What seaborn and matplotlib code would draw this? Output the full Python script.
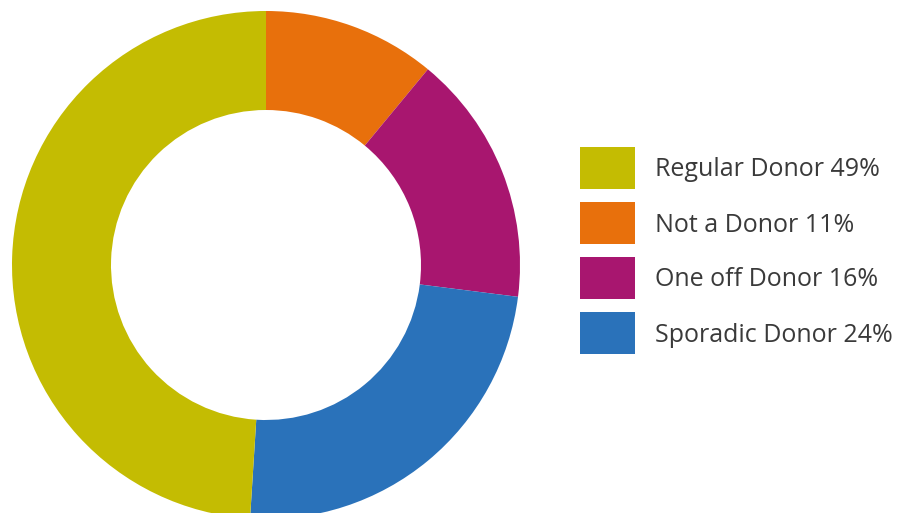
import matplotlib
matplotlib.use("Agg")
import matplotlib.pyplot as plt
from matplotlib.patches import Rectangle
import seaborn as sns

# Donor status shares (drawn clockwise from 12 o'clock)
categories = ["Not a Donor", "One off Donor", "Sporadic Donor", "Regular Donor"]
shares = [11, 16, 24, 49]
colors = ["#E8700C", "#A8166F", "#2A72BA", "#C4BC02"]

# Legend order as listed beside the ring
legend_order = ["Regular Donor", "Not a Donor", "One off Donor", "Sporadic Donor"]

sns.set_theme(style="white")
plt.rcParams["font.family"] = ["Open Sans", "DejaVu Sans"]

W, H = 907, 513
fig = plt.figure(figsize=(W / 100, H / 100), dpi=100)
fig.patch.set_facecolor("white")

# Ring centred at (266, 265) px from top-left, outer radius 254 px
cx, cy, r = 266, 265, 254
ax = fig.add_axes([(cx - r) / W, (H - cy - r) / H, 2 * r / W, 2 * r / H])
palette = sns.color_palette(colors)
ax.pie(shares, colors=palette, startangle=90, counterclock=False,
       wedgeprops=dict(width=(254 - 155) / 254, linewidth=0))
ax.set_xlim(-1, 1)
ax.set_ylim(-1, 1)
ax.set_aspect("equal")
ax.axis("off")

# Legend: colour swatches with labels
color_of = dict(zip(categories, palette))
share_of = dict(zip(categories, shares))
top0, pitch, sw_w, sw_h, sw_x = 147, 55, 55, 42, 580
for i, name in enumerate(legend_order):
    top = top0 + i * pitch
    fig.add_artist(Rectangle((sw_x / W, (H - top - sw_h) / H), sw_w / W, sw_h / H,
                             transform=fig.transFigure, facecolor=color_of[name],
                             edgecolor="none"))
    fig.text(655 / W, (H - top - 29.5) / H, f"{name} {share_of[name]}%",
             ha="left", va="baseline", fontsize=18, color="#3a3a3a")

fig.savefig("out.png", dpi=100, facecolor="white")
